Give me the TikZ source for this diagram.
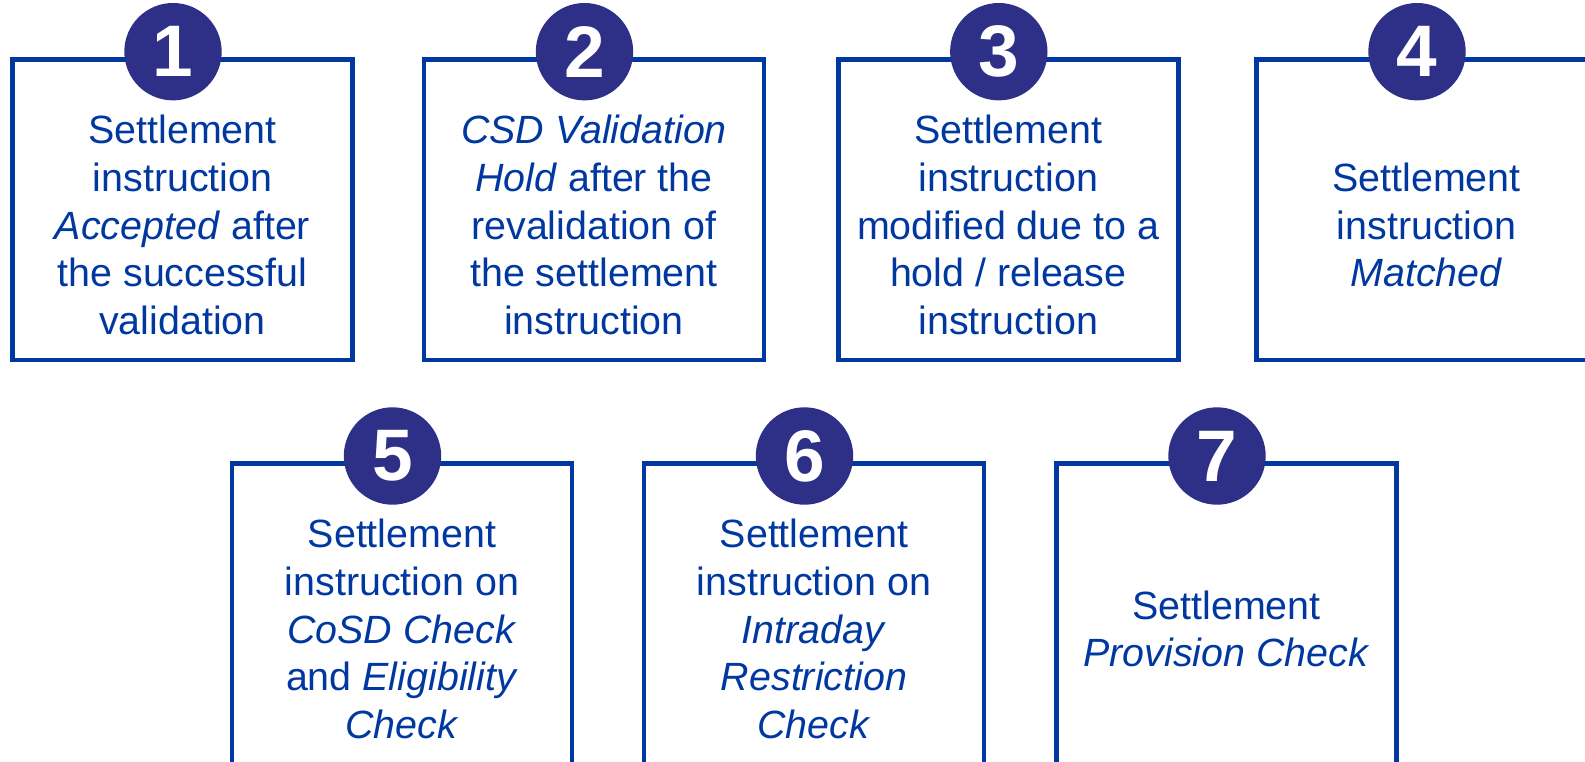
\documentclass[tikz,border=0pt]{standalone}
\usepackage{fontspec}
\setmainfont{Liberation Sans}
\definecolor{boxblue}{RGB}{0,56,160}
\definecolor{circblue}{RGB}{46,48,135}
\begin{document}
\begin{tikzpicture}[x=1pt,y=-1pt,
  stepbox/.style={draw=boxblue, line width=4.5pt, minimum width=340pt, minimum height=300.5pt, inner sep=0pt, outer sep=0pt},
  numcirc/.style={circle, fill=circblue, minimum size=97.4pt, inner sep=0pt, text=white, font=\fontsize{73pt}{80pt}\selectfont\bfseries},
  boxtext/.style={align=center, text=boxblue, inner sep=0pt, font=\fontsize{39.4pt}{47.8pt}\selectfont}
]
\useasboundingbox (0,0) rectangle (1585,762);
\clip (0,0) rectangle (1585,762);
% top row
\node[stepbox] (b1) at (182.5,209.75) {};
\node[stepbox] (b2) at (594,209.75) {};
\node[stepbox] (b3) at (1008.3,209.75) {};
\node[stepbox] (b4) at (1426.5,209.75) {};
% bottom row
\node[stepbox] (b5) at (402,613.75) {};
\node[stepbox] (b6) at (814,613.75) {};
\node[stepbox] (b7) at (1226.5,613.75) {};
% circles
\node[numcirc] (c1) at (173,51.7) {1};
\node[numcirc] (c2) at (584.5,51.7) {2};
\node[numcirc] (c3) at (998.8,51.7) {3};
\node[numcirc] (c4) at (1417,51.7) {4};
\node[numcirc] (c5) at (392.5,456) {5};
\node[numcirc] (c6) at (804.5,456) {6};
\node[numcirc] (c7) at (1217,456) {7};
% texts
\node[boxtext] (t1) at (182.5,225) {Settlement\\instruction\\\textit{Accepted} after\\the successful\\validation};
\node[boxtext] (t2) at (594,225) {\textit{CSD Validation}\\\textit{Hold} after the\\revalidation of\\the settlement\\instruction};
\node[boxtext] (t3) at (1008.3,225) {Settlement\\instruction\\modified due to a\\hold / release\\instruction};
\node[boxtext] (t4) at (1426.5,225) {Settlement\\instruction\\\textit{Matched}};
\node[boxtext] (t5) at (402,629) {Settlement\\instruction on\\\textit{CoSD Check}\\and \textit{Eligibility}\\\textit{Check}};
\node[boxtext] (t6) at (814,629) {Settlement\\instruction on\\\textit{Intraday}\\\textit{Restriction}\\\textit{Check}};
\node[boxtext] (t7) at (1226.5,629) {Settlement\\\textit{Provision Check}};
\end{tikzpicture}
\end{document}
